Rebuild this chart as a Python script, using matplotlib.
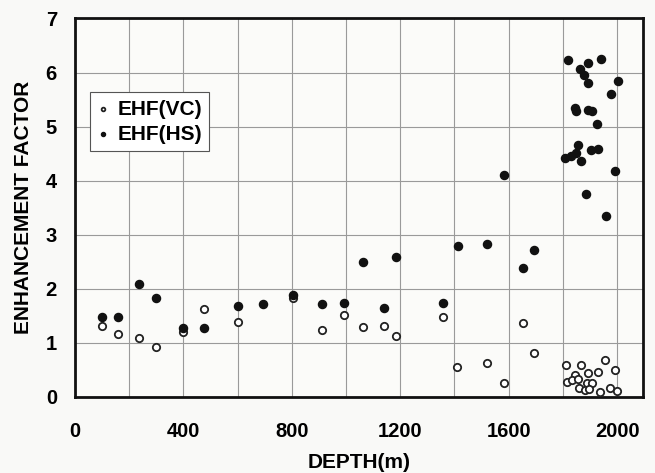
import matplotlib
matplotlib.use("Agg")
import matplotlib.pyplot as plt

# EHF(VC): open circles
vc_depth = [98, 160, 236, 298, 400, 476, 601, 803,
            910, 993, 1064, 1140, 1183, 1359, 1410, 1519, 1584, 1654, 1695,
            1811, 1865, 1957, 1992, 1894, 1928, 1846, 1814, 1833, 1854,
            1888, 1907, 1861, 1883, 1898, 1937, 1974, 2001]
vc_ehf = [1.31, 1.16, 1.08, 0.92, 1.20, 1.62, 1.38, 1.82,
          1.23, 1.51, 1.29, 1.31, 1.12, 1.48, 0.56, 0.62, 0.25, 1.36, 0.82,
          0.59, 0.59, 0.68, 0.49, 0.45, 0.46, 0.41, 0.27, 0.31, 0.33,
          0.25, 0.26, 0.17, 0.13, 0.15, 0.09, 0.17, 0.11]

# EHF(HS): filled circles
hs_depth = [98, 160, 236, 298, 400, 476, 601, 693, 803,
            910, 993, 1064, 1140, 1183, 1359, 1412, 1519, 1584, 1654, 1695,
            1818, 1892, 1939, 1862, 1878, 1893, 2003, 1976, 1845, 1847,
            1894, 1907, 1925, 1857, 1808, 1829, 1849, 1866, 1903, 1931,
            1993, 1886, 1958]
hs_ehf = [1.47, 1.48, 2.09, 1.82, 1.28, 1.27, 1.68, 1.72, 1.88,
          1.72, 1.73, 2.50, 1.64, 2.58, 1.73, 2.79, 2.82, 4.10, 2.38, 2.71,
          6.23, 6.17, 6.25, 6.06, 5.95, 5.81, 5.84, 5.60, 5.34, 5.28,
          5.31, 5.28, 5.04, 4.66, 4.42, 4.45, 4.52, 4.37, 4.57, 4.58,
          4.17, 3.76, 3.34]

x_ticks = [0, 400, 800, 1200, 1600, 2000]
y_ticks = [0, 1, 2, 3, 4, 5, 6, 7]

plt.rcParams['font.family'] = ['Liberation Sans', 'DejaVu Sans']
plt.rcParams['font.weight'] = 'bold'

fig = plt.figure(figsize=(6.55, 4.73), dpi=100, facecolor='#f9f9f7')
ax = fig.add_axes([0.1145, 0.161, 0.867, 0.80])
ax.set_facecolor('#fbfbf9')

ax.scatter(vc_depth, vc_ehf, s=28, facecolors='white', edgecolors='#222222',
           linewidths=1.3, zorder=3, label='EHF(VC)')
ax.scatter(hs_depth, hs_ehf, s=34, color='#111111', zorder=3, label='EHF(HS)')

ax.set_xlim(0, 2095)
ax.set_ylim(0, 7)
ax.set_xticks(x_ticks)
ax.set_xticks(range(0, 2001, 200), minor=True)
ax.set_yticks(y_ticks)
ax.grid(True, which='both', color='#9a9a9a', linewidth=0.8)
ax.set_axisbelow(True)
ax.tick_params(which='both', length=0, labelsize=14.5, pad=18)
ax.tick_params(axis='y', pad=13)
for s in ax.spines.values():
    s.set_linewidth(2)
    s.set_color('#111111')

ax.set_xlabel('DEPTH(m)', fontsize=15, fontweight='bold', labelpad=9)
ax.set_ylabel('ENHANCEMENT FACTOR', fontsize=15, fontweight='bold', labelpad=9)

leg = ax.legend(loc='upper left', bbox_to_anchor=(0.026, 0.805), borderaxespad=0,
                fontsize=15, markerscale=0.5, handletextpad=0.37, handlelength=0.6,
                borderpad=0.35, labelspacing=0.3, fancybox=False, framealpha=1)
leg.get_frame().set_edgecolor('#555555')
leg.get_frame().set_linewidth(0.8)

fig.savefig('out.png', dpi=100, facecolor=fig.get_facecolor())
